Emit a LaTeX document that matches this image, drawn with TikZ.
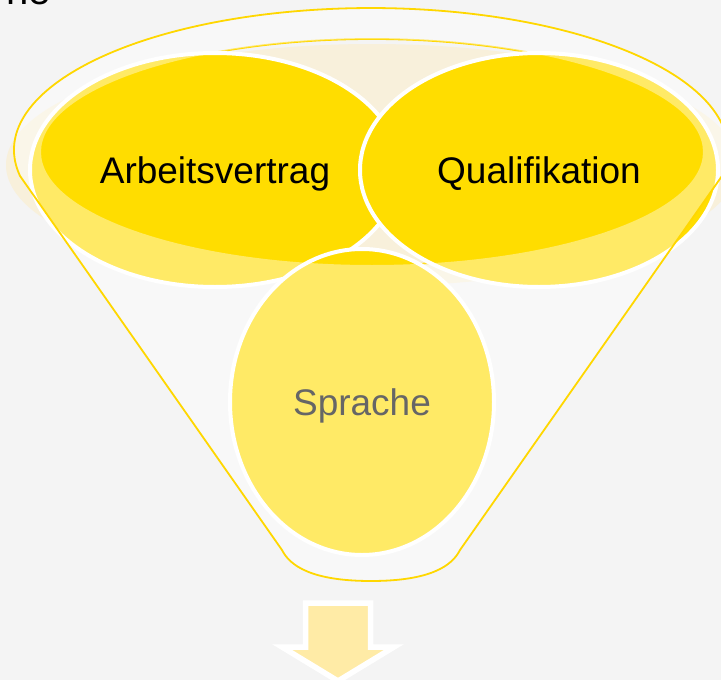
\documentclass[tikz,border=0pt]{standalone}
\usepackage{fontspec}
\setmainfont{Liberation Sans}
\usetikzlibrary{shapes.geometric}
\definecolor{bg}{HTML}{F4F4F4}
\definecolor{darky}{HTML}{FFDD00}
\definecolor{rimy}{HTML}{FFD700}
\definecolor{cream}{HTML}{F8F0DB}
\definecolor{arrowy}{HTML}{FFEBA6}
\tikzset{
  blob/.style={ellipse, fill=darky, draw=white, line width=4pt, inner sep=0pt,
    text depth=0pt, font=\fontsize{37}{44}\selectfont, text=black},
  rimline/.style={draw=rimy, line width=1.8pt},
}
\begin{document}
\begin{tikzpicture}[x=1pt,y=-1pt]
\useasboundingbox (0,0) rectangle (721,680);
\fill[bg] (0,0) rectangle (721,680);
% back glow of the funnel opening
\fill[cream] (372,165) ellipse [x radius=366, y radius=121];
% opening outline
\draw[rimline] (372,152) ellipse [x radius=331, y radius=113];
% circles
\node[blob, minimum width=370pt, minimum height=234pt] (arb) at (215,170) {Arbeitsvertrag};
\node[blob, minimum width=358pt, minimum height=234pt] (qual) at (539,170) {Qualifikation};
\node[blob, minimum width=264pt, minimum height=306pt] (spr) at (362,402) {Sprache};
% translucent front of the funnel
\fill[white, opacity=0.4, even odd rule]
  (20,175.9) arc[start angle=169.5, end angle=370.5, x radius=357, y radius=142]
  -- (460,550) .. controls (452,566) and (430,581) .. (371,581)
  .. controls (312,581) and (290,566) .. (282,550) -- cycle
  (372,152) ellipse [x radius=331, y radius=113];
% funnel outline
\draw[rimline]
  (20,175.9) arc[start angle=169.5, end angle=370.5, x radius=357, y radius=142]
  -- (460,550) .. controls (452,566) and (430,581) .. (371,581)
  .. controls (312,581) and (290,566) .. (282,550) -- cycle;
% down arrow
\draw[fill=arrowy, draw=white, line width=5.5pt, line join=miter]
  (305.5,603) -- (370.5,603) -- (370.5,647) -- (394,647) -- (338,681)
  -- (282,647) -- (305.5,647) -- cycle;
% clipped title text
\node[anchor=base east, inner sep=0pt, font=\fontsize{40}{48}\selectfont] (title) at (51,5) {ne};
\end{tikzpicture}
\end{document}
